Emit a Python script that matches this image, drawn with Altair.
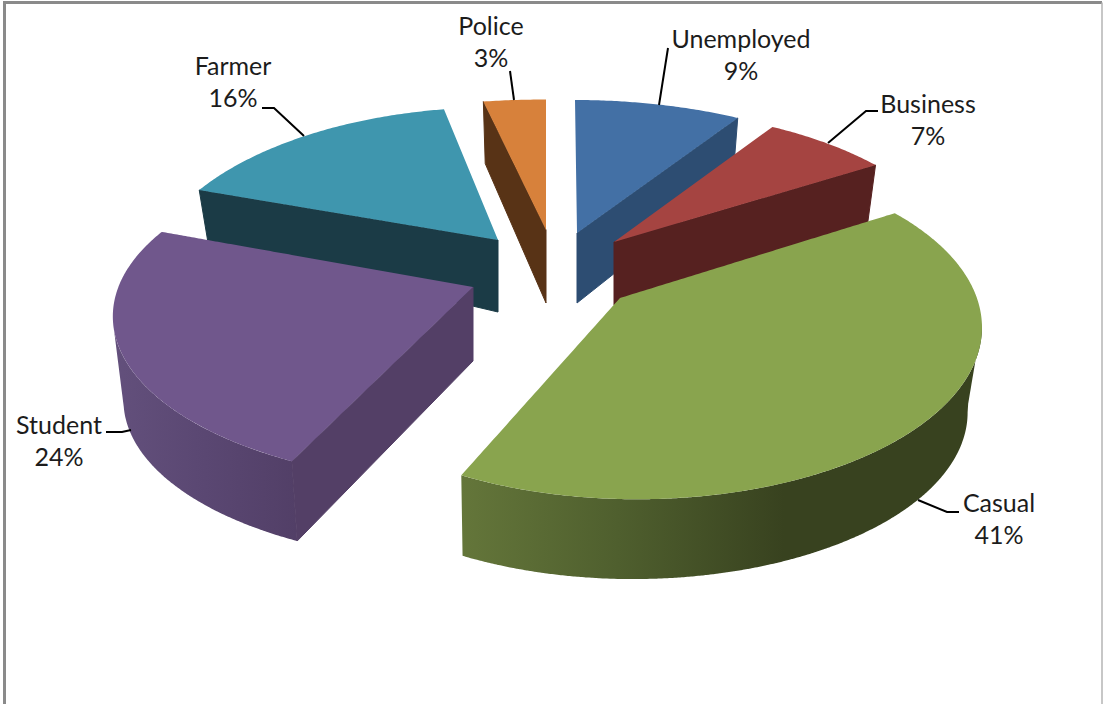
import numpy as np
import pandas as pd
import altair as alt

WIDTH, HEIGHT = 1103, 704

# Occupation shares, clockwise from twelve o'clock
categories = ["Unemployed", "Business", "Casual", "Student", "Farmer", "Police"]
shares = [9, 7, 41, 24, 16, 3]

top_colors = ["#4370a5", "#a54441", "#89a44e", "#70578c", "#3f96ae", "#d7813b"]
side_colors = ["#2d4d72", "#562120", "#38421f", "#533f66", "#1b3b46", "#583316"]

# Perspective strength of the tilted disc
PERSPECTIVE = 0.2
BASE_SCALE = 0.97

# Per-slice layout of the exploded 3D pie:
# rim centre, horizontal and vertical radius, tip, tip depth, rim depth,
# which cut face shows, and the part of the rim that faces the viewer.
layout = {
    "Unemployed": dict(c=(575, 235), r=(355, 162), tip=(577, 233), tip_d=70, rim_d=58, face="end", band=None),
    "Business": dict(c=(617, 242.5), r=(339, 160), tip=(614, 242), tip_d=63, rim_d=55, face="end", band=None),
    "Casual": dict(c=(637, 293), r=(338, 165), tip=(620, 298), tip_d=70, rim_d=86, face=None, band=(100, None), base_dx=-4),
    "Student": dict(c=(468, 288), r=(350, 162), tip=(473, 287), tip_d=74, rim_d=85, face="start", band=(None, 258), k=0.17),
    "Farmer": dict(c=(498, 248), r=(345, 169), tip=(498, 240), tip_d=72, rim_d=52, face="start", band=None),
    "Police": dict(c=(546, 237), r=(400, 165), tip=(546, 230), tip_d=73, rim_d=58, face="start", band=None),
}
draw_order = ["Police", "Unemployed", "Farmer", "Business", "Student", "Casual"]

band_gradients = {
    "Casual": [("#64763a", 0.0), ("#4f5f2e", 0.3), ("#38421f", 0.62), ("#38421f", 1.0)],
    "Student": [("#63507c", 0.0), ("#5a4772", 0.5), ("#523f67", 1.0)],
}

label_rows = [
    ("Unemployed", 741, 40), ("9%", 741, 72),
    ("Business", 928, 105), ("7%", 928, 137),
    ("Casual", 999, 504), ("41%", 999, 536),
    ("Student", 59, 426), ("24%", 59, 458),
    ("Farmer", 233, 67), ("16%", 233, 99),
    ("Police", 491, 27), ("3%", 491, 59),
]

leaders = {
    "Unemployed": [(668, 48), (659, 105)],
    "Business": [(878, 111), (866, 111), (828, 143)],
    "Casual": [(959, 512), (947, 512), (918, 500)],
    "Student": [(106, 432), (122, 432), (131, 430)],
    "Farmer": [(262, 108), (274, 108), (304, 136)],
    "Police": [(510, 71), (514, 100)],
}

x_enc = alt.X("x:Q", scale=alt.Scale(domain=[0, WIDTH], nice=False, zero=False), axis=None)
y_enc = alt.Y("y:Q", scale=alt.Scale(domain=[HEIGHT, 0], nice=False, zero=False), axis=None)


def rim_point(spec, deg, lowered=False):
    """Project one rim angle of a slice onto the page."""
    t = np.radians(deg)
    sx, sy = np.sin(t), np.cos(t)
    w = 1 + spec.get("k", PERSPECTIVE) * sy
    k = BASE_SCALE if lowered else 1.0
    dz = spec["rim_d"] if lowered else 0.0
    dx = spec.get("base_dx", 0) if lowered else 0.0
    return (spec["c"][0] + dx + k * spec["r"][0] * sx / w,
            spec["c"][1] - k * spec["r"][1] * sy / w + dz)


def rim(spec, start, end, lowered=False):
    n = max(int(abs(end - start)) * 2, 2)
    return [rim_point(spec, d, lowered) for d in np.linspace(start, end, n + 1)]


def envelope(points):
    """Upper and lower outline of a polygon, as x / y / y2 rows for an area mark."""
    pts = list(points)
    edges = list(zip(pts, pts[1:] + pts[:1]))
    rows = []
    for x in sorted({p[0] for p in pts}):
        hits = []
        for (x0, y0), (x1, y1) in edges:
            if min(x0, x1) <= x <= max(x0, x1):
                if x0 == x1:
                    hits += [y0, y1]
                else:
                    hits.append(y0 + (y1 - y0) * (x - x0) / (x1 - x0))
        rows.append({"x": x, "y": min(hits), "y2": max(hits)})
    return pd.DataFrame(rows)


def polygon_layer(points, fill, edge=None):
    style = dict(stroke=edge, strokeWidth=1) if edge else {}
    return alt.Chart(envelope(points)).mark_area(
        color=fill, orient="vertical", interpolate="linear", **style
    ).encode(x=x_enc, y=y_enc, y2="y2:Q")


edges_deg = np.cumsum([0] + shares) * 3.6
angles = {c: (edges_deg[i], edges_deg[i + 1]) for i, c in enumerate(categories)}

layers = []

# Frame of the chart area
frame = pd.DataFrame({"x": [4.5, 4.5, 1102], "y": [HEIGHT, 2.5, 2.5]})
layers.append(alt.Chart(frame).mark_line(color="#8a8a8a", strokeWidth=3).encode(
    x=x_enc, y=y_enc, order=alt.Order("o:Q")
).transform_window(o="row_number()"))
layers.append(alt.Chart(pd.DataFrame({"x": [1102, 1102], "y": [2.5, HEIGHT]})).mark_line(
    color="#b5b5b5", strokeWidth=1.5
).encode(x=x_enc, y=y_enc))

for name in draw_order:
    i = categories.index(name)
    spec = layout[name]
    start, end = angles[name]
    tip = spec["tip"]
    tip_low = (tip[0], tip[1] + spec["tip_d"])

    # Curved outer wall
    if spec["band"]:
        a = spec["band"][0] if spec["band"][0] is not None else start
        b = spec["band"][1] if spec["band"][1] is not None else end
        stops = [alt.GradientStop(color=c, offset=o) for c, o in band_gradients[name]]
        wall = rim(spec, a, b) + rim(spec, b, a, True)
        layers.append(alt.Chart(envelope(wall)).mark_area(
            color=alt.LinearGradient(gradient="linear", x1=0, x2=1, y1=0, y2=0, stops=stops),
            orient="vertical",
        ).encode(x=x_enc, y=y_enc, y2="y2:Q"))

    # Cut face between the tip and one end of the rim
    if spec["face"]:
        deg = start if spec["face"] == "start" else end
        layers.append(polygon_layer(
            [tip, rim_point(spec, deg), rim_point(spec, deg, True), tip_low],
            side_colors[i], side_colors[i],
        ))

    # Top surface of the slice
    layers.append(polygon_layer([tip] + rim(spec, start, end), top_colors[i]))

# Leader lines from the slices to their labels
leader_rows = [
    {"name": n, "o": k, "x": p[0], "y": p[1]}
    for n, pts in leaders.items() for k, p in enumerate(pts)
]
layers.append(alt.Chart(pd.DataFrame(leader_rows)).mark_line(color="#000000", strokeWidth=2).encode(
    x=x_enc, y=y_enc, detail="name:N", order="o:Q"
))

# Category and share labels
labels = pd.DataFrame(label_rows, columns=["text", "x", "y"])
layers.append(alt.Chart(labels).mark_text(
    font="Lato", fontSize=25, color="#1c1c1c", align="center", baseline="middle"
).encode(x=x_enc, y=y_enc, text="text:N"))

chart = alt.layer(*layers).properties(
    width=WIDTH, height=HEIGHT, padding=0, autosize=alt.AutoSizeParams(type="none"),
    background="#ffffff",
).configure_view(stroke=None)

chart.save("out.html", embed_options={"renderer": "svg", "actions": False})
